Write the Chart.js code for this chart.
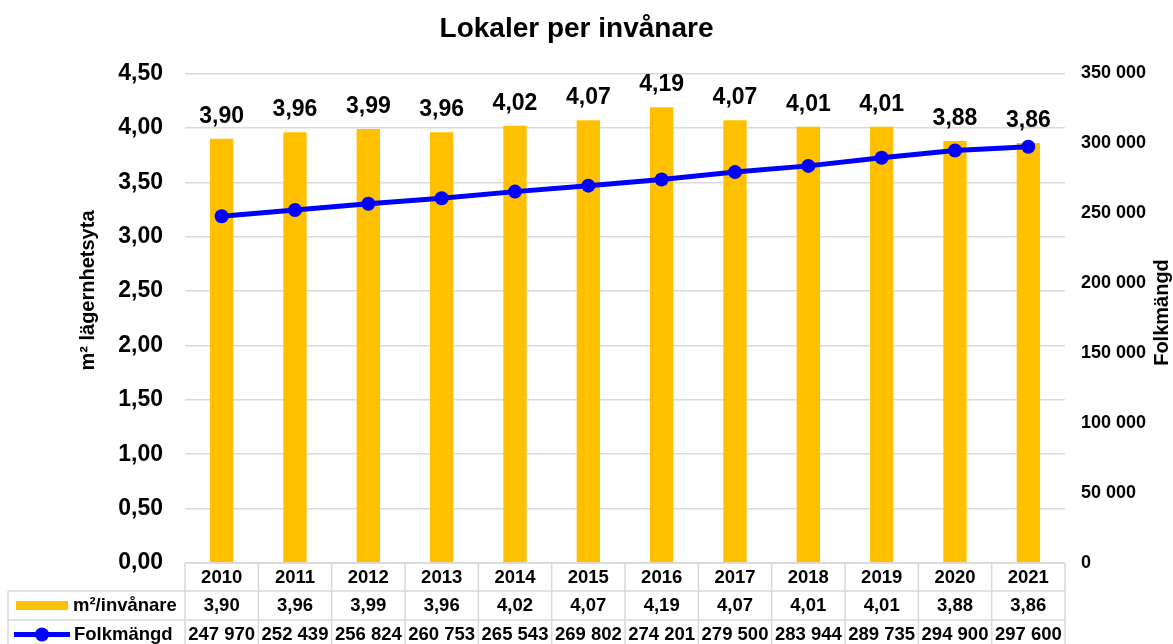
<!DOCTYPE html>
<html>
<head>
<meta charset="utf-8">
<script src="https://cdn.jsdelivr.net/npm/chart.js@4.4.1/dist/chart.umd.min.js"></script>
<style>
  body { margin: 0; background: #fff; }
  #wrap { width: 1173px; height: 644px; position: relative; }
</style>
</head>
<body>
<div id="wrap"><canvas id="myChart"></canvas></div>
<script>
const years = ['2010', '2011', '2012', '2013', '2014', '2015', '2016', '2017', '2018', '2019', '2020', '2021'];
const perInhabitant = [3.90, 3.96, 3.99, 3.96, 4.02, 4.07, 4.19, 4.07, 4.01, 4.01, 3.88, 3.86];
const population = [247970, 252439, 256824, 260753, 265543, 269802, 274201, 279500, 283944, 289735, 294900, 297600];
const barLabel = 'm²/invånare';
const lineLabel = 'Folkmängd';
const chartTitle = 'Lokaler per invånare';

const FONT = '"Liberation Sans", Arial, sans-serif';
const GRID = '#d9d9d9';

function comma(v) {
    return v.toFixed(2).replace('.', ',');
}
function spaced(v) {
    return String(v).replace(/\B(?=(\d{3})+(?!\d))/g, ' ');
}

// title, labels above the bars, axis titles and the data table under the plot
const extras = {
    id: 'extras',
    afterDatasetsDraw(chart) {
        const ctx = chart.ctx;
        const area = chart.chartArea;
        ctx.save();
        ctx.fillStyle = '#000';

        // title
        ctx.font = 'bold 28px ' + FONT;
        ctx.textAlign = 'center';
        ctx.textBaseline = 'alphabetic';
        ctx.fillText(chartTitle, chart.width / 2 - 10, 37);

        // values above bars
        ctx.font = 'bold 23px ' + FONT;
        chart.getDatasetMeta(0).data.forEach((bar, i) => {
            ctx.fillText(comma(perInhabitant[i]), bar.x, bar.y - 16);
        });

        // axis titles
        ctx.textBaseline = 'middle';
        ctx.font = 'bold 20px ' + FONT;
        ctx.save();
        ctx.translate(88, area.top + 217);
        ctx.rotate(-Math.PI / 2);
        ctx.fillText('m² lägernhetsyta', 0, 0);
        ctx.restore();
        ctx.save();
        ctx.translate(chart.scales.y1.right - 11, area.top + 239);
        ctx.rotate(-Math.PI / 2);
        ctx.fillText(lineLabel, 0, 0);
        ctx.restore();

        // table
        const n = years.length;
        const cw = (area.right - area.left) / n;
        const top = area.bottom;
        const rows = [top, top + 28, top + 57, top + 86];
        const legendLeft = 8;
        ctx.strokeStyle = GRID;
        ctx.lineWidth = 1.5;
        ctx.beginPath();
        ctx.moveTo(area.left, rows[0]); ctx.lineTo(area.right, rows[0]);
        for (let r = 1; r < rows.length; r++) {
            ctx.moveTo(legendLeft, rows[r]); ctx.lineTo(area.right, rows[r]);
        }
        for (let i = 0; i <= n; i++) {
            const x = area.left + i * cw;
            ctx.moveTo(x, rows[0]); ctx.lineTo(x, rows[3]);
        }
        ctx.moveTo(legendLeft, rows[1]); ctx.lineTo(legendLeft, rows[3]);
        ctx.stroke();

        ctx.font = 'bold 18.5px ' + FONT;
        ctx.textAlign = 'center';
        const mid = [(rows[0] + rows[1]) / 2 + 1, (rows[1] + rows[2]) / 2, (rows[2] + rows[3]) / 2];
        for (let i = 0; i < n; i++) {
            const cx = area.left + (i + 0.5) * cw;
            ctx.fillText(years[i], cx, mid[0]);
            ctx.fillText(comma(perInhabitant[i]), cx, mid[1]);
            ctx.fillText(spaced(population[i]), cx, mid[2]);
        }

        // legend keys in the table
        ctx.fillStyle = '#FFC000';
        ctx.fillRect(16, mid[1] - 4.5, 52, 9);
        ctx.strokeStyle = '#0000FF';
        ctx.lineWidth = 5;
        ctx.beginPath();
        ctx.moveTo(14, mid[2]); ctx.lineTo(70, mid[2]);
        ctx.stroke();
        ctx.fillStyle = '#0000FF';
        ctx.beginPath();
        ctx.arc(42, mid[2], 7, 0, Math.PI * 2);
        ctx.fill();

        ctx.fillStyle = '#000';
        ctx.textAlign = 'left';
        ctx.fillText(barLabel, 73, mid[1]);
        ctx.fillText(lineLabel, 74, mid[2]);
        ctx.restore();
    }
};

const ctx = document.getElementById('myChart');

new Chart(ctx, {
    data: {
        labels: years,
        datasets: [{
            type: 'bar',
            label: barLabel,
            data: perInhabitant,
            backgroundColor: '#FFC000',
            barPercentage: 0.318,
            categoryPercentage: 1,
            yAxisID: 'y',
            order: 1
        }, {
            type: 'line',
            label: lineLabel,
            data: population,
            borderColor: '#0000FF',
            backgroundColor: '#0000FF',
            borderWidth: 5,
            pointRadius: 7,
            pointBorderWidth: 0,
            yAxisID: 'y1',
            order: 0
        }]
    },
    options: {
        responsive: true,
        maintainAspectRatio: false,
        animation: false,
        layout: {
            padding: { left: 0, right: 0, top: 73.5, bottom: 81 }
        },
        plugins: {
            legend: { display: false },
            tooltip: { enabled: false },
            title: { display: false }
        },
        scales: {
            x: {
                display: false
            },
            y: {
                position: 'left',
                min: 0,
                max: 4.5,
                border: { display: false },
                grid: { color: GRID, lineWidth: 1.5, drawTicks: false },
                ticks: {
                    stepSize: 0.5,
                    padding: 22,
                    color: '#000',
                    font: { family: FONT, size: 23, weight: 'bold' },
                    callback: v => comma(v)
                },
                afterFit: s => { s.width = 185; }
            },
            y1: {
                position: 'right',
                min: 0,
                max: 350000,
                border: { display: false },
                grid: { display: false, drawTicks: false },
                ticks: {
                    stepSize: 50000,
                    padding: 16,
                    color: '#000',
                    font: { family: FONT, size: 18, weight: 'bold' },
                    callback: v => spaced(v)
                },
                afterFit: s => { s.width = 108; }
            }
        }
    },
    plugins: [extras]
});
</script>
</body>
</html>
